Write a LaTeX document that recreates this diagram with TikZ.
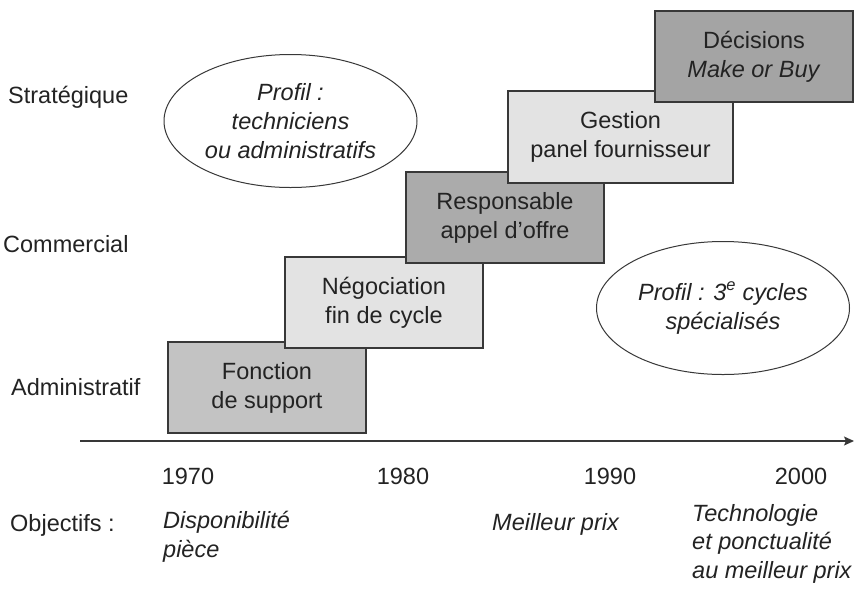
\documentclass[tikz,border=0pt]{standalone}
\usepackage{fontspec}
\setmainfont{Liberation Sans}
\usetikzlibrary{shapes.geometric,arrows.meta}
\definecolor{ink}{HTML}{232323}
\definecolor{edge}{HTML}{383838}
\definecolor{gmid}{HTML}{C3C3C3}
\definecolor{glight}{HTML}{E3E3E3}
\definecolor{gdark}{HTML}{ABABAB}
\definecolor{gdarker}{HTML}{A4A4A4}
\begin{document}
\begin{tikzpicture}[x=1pt,y=-1pt,
  every node/.style={text=ink, font=\fontsize{23.5}{29}\selectfont},
  stepbox/.style={draw=edge, line width=1.2pt, rectangle, minimum width=198pt,
    minimum height=91pt, align=center, inner sep=0pt},
  bubble/.style={draw=edge, line width=1pt, ellipse, fill=white, minimum width=253pt,
    minimum height=133pt, align=center, inner sep=0pt,
    font=\fontsize{23.5}{29}\selectfont\itshape},
  lbl/.style={anchor=west, inner sep=0pt},
  year/.style={inner sep=0pt},
  obj/.style={anchor=north west, inner sep=0pt, align=left,
    font=\fontsize{23.5}{28.5}\selectfont\itshape}]
\useasboundingbox (0,0) rectangle (854,590);
\fill[white] (0,0) rectangle (854,590);

% levels
\node[lbl] (strat) at (8,97) {Stratégique};
\node[lbl] (comm) at (3,244) {Commercial};
\node[lbl] (admin) at (11,387) {Administratif};

% steps
\node[stepbox, fill=gmid] (s1) at (267,387.5) {Fonction\\de support};
\node[stepbox, fill=glight] (s2) at (384,302.5) {Négociation\\fin de cycle};
\node[stepbox, fill=gdark] (s3) at (505,217.5) {Responsable\\appel d’offre};
\node[stepbox, fill=glight, minimum width=225pt, minimum height=92pt] (s4) at (620.5,137) {Gestion\\panel fournisseur};
\node[stepbox, fill=gdarker] (s5) at (754,56.5) {Décisions\\\textit{Make or Buy}};

% profiles
\node[bubble] (p1) at (290.5,121) {Profil :\\techniciens\\ou administratifs};
\node[bubble] (p2) at (723,308) {Profil : 3\textsuperscript{e} cycles\\spécialisés};

% axis
\coordinate (a0) at (80,441);
\coordinate (a1) at (854,441);
\draw[edge, line width=1.2pt, -{Stealth[length=10pt,width=9pt,inset=2pt]}] (a0) -- (a1);

% years
\node[year] (y70) at (188,476) {1970};
\node[year] (y80) at (403,476) {1980};
\node[year] (y90) at (610,476) {1990};
\node[year] (y00) at (801,476) {2000};

% objectives
\node[lbl] (objt) at (10,525) {Objectifs :};
\node[obj] (o1) at (163,511) {Disponibilité\\pièce};
\node[obj, anchor=west] (o2) at (492,524) {Meilleur prix};
\node[obj] (o3) at (692,504) {Technologie\\et ponctualité\\au meilleur prix};
\end{tikzpicture}
\end{document}
